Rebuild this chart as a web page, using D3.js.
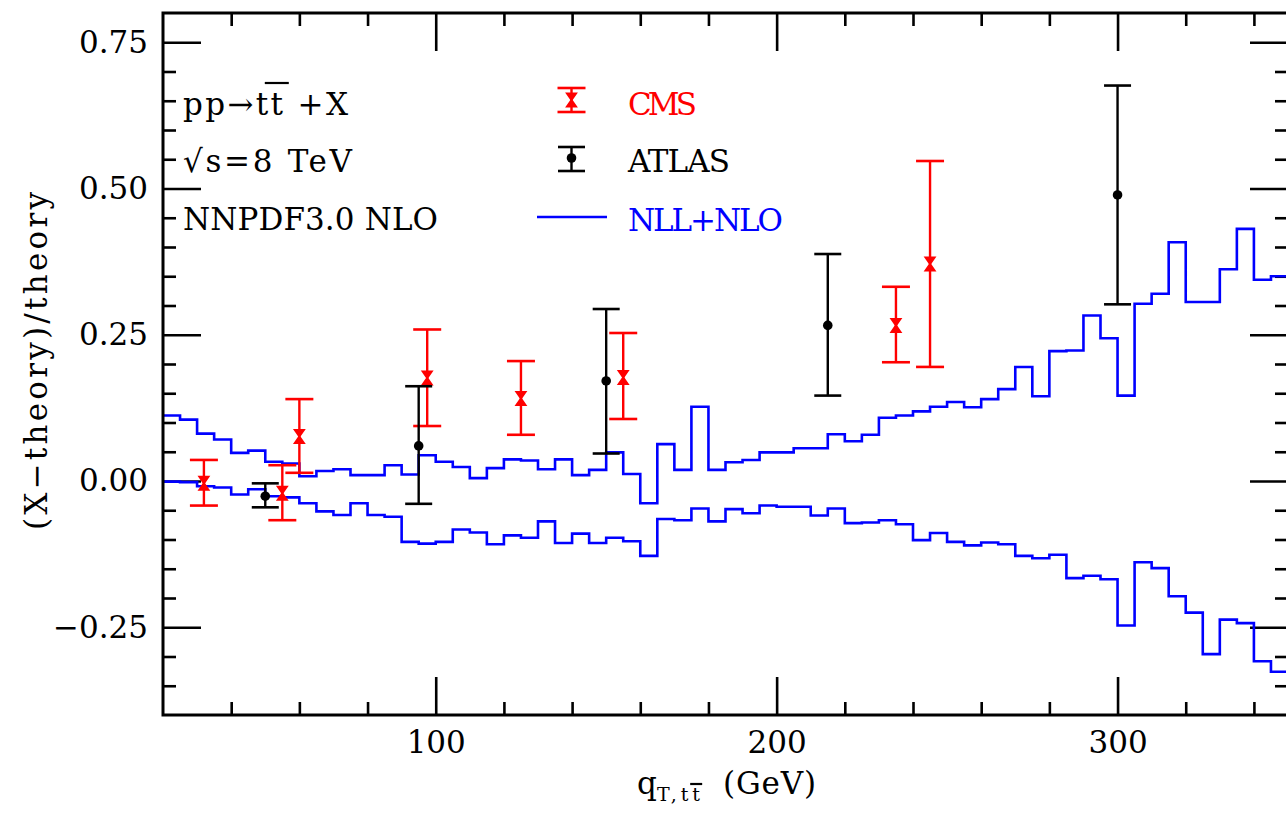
<!DOCTYPE html>
<html><head><meta charset="utf-8">
<script src="https://cdn.jsdelivr.net/npm/d3@7"></script>
<style>body{margin:0;background:#fff} svg{display:block}</style>
</head><body>
<svg id="c" width="1286" height="820"></svg>
<script>
// ---- data ----
const binLo = [20,25,30,35,40,45,50,55,60,65,70,75,80,85,90,95,100,105,110,115,120,125,130,135,140,145,150,155,160,165,170,175,180,185,190,195,200,205,210,215,220,225,230,235,240,245,250,255,260,265,270,275,280,285,290,295,300,305,310,315,320,325,330,335,340,345];
const binHi = 350;
const nllUpper = [0.112,0.105,0.081,0.071,0.048,0.052,0.033,0.030,0.008,0.017,0.020,0.010,0.010,0.027,0.011,0.044,0.033,0.024,0.005,0.022,0.037,0.035,0.020,0.037,0.010,0.019,0.049,0.012,-0.038,0.063,0.019,0.127,0.019,0.032,0.036,0.049,0.049,0.056,0.056,0.080,0.068,0.079,0.108,0.112,0.119,0.127,0.135,0.126,0.140,0.157,0.195,0.145,0.222,0.223,0.283,0.244,0.146,0.303,0.320,0.408,0.306,0.306,0.362,0.431,0.344,0.350];
const nllLower = [-0.001,-0.002,-0.009,-0.011,-0.023,-0.014,-0.026,-0.028,-0.038,-0.052,-0.058,-0.038,-0.058,-0.061,-0.104,-0.107,-0.104,-0.083,-0.088,-0.108,-0.093,-0.097,-0.069,-0.106,-0.090,-0.106,-0.097,-0.103,-0.128,-0.065,-0.067,-0.047,-0.069,-0.048,-0.055,-0.042,-0.044,-0.044,-0.059,-0.047,-0.072,-0.071,-0.067,-0.074,-0.101,-0.089,-0.104,-0.110,-0.105,-0.108,-0.128,-0.132,-0.126,-0.166,-0.162,-0.168,-0.247,-0.139,-0.149,-0.197,-0.225,-0.296,-0.237,-0.243,-0.308,-0.326];

const cmsX  = [32, 55, 60, 97.5, 125, 155, 235, 245];
const cmsY  = [-0.004, -0.021, 0.076, 0.176, 0.141, 0.177, 0.266, 0.371];
const cmsHi = [0.036, 0.027, 0.140, 0.259, 0.205, 0.253, 0.332, 0.547];
const cmsLo = [-0.042, -0.067, 0.014, 0.094, 0.079, 0.106, 0.203, 0.195];

const atlasX  = [50, 95, 150, 215, 300];
const atlasY  = [-0.026, 0.060, 0.171, 0.266, 0.489];
const atlasHi = [-0.004, 0.162, 0.294, 0.388, 0.676];
const atlasLo = [-0.045, -0.039, 0.047, 0.146, 0.302];

const xMajorTicks = [100, 200, 300];
const yMajorTicks = [-0.25, 0.00, 0.25, 0.50, 0.75];
const xDomain = [20, 350];
const yDomain = [-0.4, 0.8];

// ---- layout ----
const L = 163, R = 1288, T = 13, B = 715;
const FONT = "DejaVu Serif";
const RED = "#ff0000", BLUE = "#0000ff";

const svg = d3.select("#c");
const x = d3.scaleLinear(xDomain, [L, R]);
const y = d3.scaleLinear(yDomain, [B, T]);

const xMinor = d3.range(40, 350, 20).filter(v => !xMajorTicks.includes(v));
const yMinor = d3.range(-0.35, 0.8, 0.05).map(v => +v.toFixed(2)).filter(v => !yMajorTicks.some(m => Math.abs(m - v) < 1e-6));

function styleAxis(g) {
  g.select(".domain").remove();
  g.selectAll(".tick line").attr("stroke", "#000").attr("stroke-width", 2.6);
  g.selectAll(".tick text").attr("font-family", FONT).attr("font-size", 31).attr("fill", "#000");
}

// bottom
svg.append("g").attr("transform", `translate(0,${B})`)
  .call(d3.axisBottom(x).tickValues(xMinor).tickSize(-13).tickFormat("")).call(styleAxis);
svg.append("g").attr("transform", `translate(0,${B})`)
  .call(d3.axisBottom(x).tickValues(xMajorTicks).tickSize(-38).tickPadding(16).tickFormat(d3.format("d"))).call(styleAxis);
// top
svg.append("g").attr("transform", `translate(0,${T})`)
  .call(d3.axisTop(x).tickValues(xMinor).tickSize(-13).tickFormat("")).call(styleAxis);
svg.append("g").attr("transform", `translate(0,${T})`)
  .call(d3.axisTop(x).tickValues(xMajorTicks).tickSize(-38).tickFormat("")).call(styleAxis);
// left
svg.append("g").attr("transform", `translate(${L},0)`)
  .call(d3.axisLeft(y).tickValues(yMinor).tickSize(-13).tickFormat("")).call(styleAxis);
svg.append("g").attr("transform", `translate(${L},0)`)
  .call(d3.axisLeft(y).tickValues(yMajorTicks).tickSize(-38).tickPadding(15).tickFormat(d3.format(".2f"))).call(styleAxis);
// right
svg.append("g").attr("transform", `translate(${R},0)`)
  .call(d3.axisRight(y).tickValues(yMinor).tickSize(-13).tickFormat("")).call(styleAxis);
svg.append("g").attr("transform", `translate(${R},0)`)
  .call(d3.axisRight(y).tickValues(yMajorTicks).tickSize(-38).tickFormat("")).call(styleAxis);

// clip
svg.append("clipPath").attr("id", "plotclip").append("rect")
  .attr("x", L).attr("y", T).attr("width", R - L).attr("height", B - T);

// histogram bands
const stepLine = d3.line().x(d => x(d[0])).y(d => y(d[1])).curve(d3.curveStepAfter);
function bandPoints(vals) {
  const pts = binLo.map((b, i) => [b, vals[i]]);
  pts.push([binHi, vals[vals.length - 1]]);
  return pts;
}
const gPlot = svg.append("g").attr("clip-path", "url(#plotclip)");
[nllUpper, nllLower].forEach(vals => {
  gPlot.append("path").attr("d", stepLine(bandPoints(vals)))
    .attr("fill", "none").attr("stroke", BLUE).attr("stroke-width", 2.6);
});

// error bars
function errBar(g, cx, lo, hi, color, capHalf) {
  g.append("line").attr("x1", cx).attr("x2", cx).attr("y1", lo).attr("y2", hi)
    .attr("stroke", color).attr("stroke-width", 2.4);
  [lo, hi].forEach(yy => g.append("line").attr("x1", cx - capHalf).attr("x2", cx + capHalf)
    .attr("y1", yy).attr("y2", yy).attr("stroke", color).attr("stroke-width", 2.6));
}
function cmsMarker(g, cx, cy) {
  g.append("path").attr("d", `M${cx-4.5},${cy-6.5}L${cx+4.5},${cy-6.5}L${cx-4.5},${cy+6.5}L${cx+4.5},${cy+6.5}Z`)
    .attr("fill", RED).attr("stroke", RED).attr("stroke-width", 2).attr("stroke-linejoin", "miter");
}
const gCms = svg.append("g");
cmsX.forEach((v, i) => {
  errBar(gCms, x(v), y(cmsLo[i]), y(cmsHi[i]), RED, 14);
  cmsMarker(gCms, x(v), y(cmsY[i]));
});
const gAtlas = svg.append("g");
atlasX.forEach((v, i) => {
  errBar(gAtlas, x(v), y(atlasLo[i]), y(atlasHi[i]), "#000", 13.5);
  gAtlas.append("circle").attr("cx", x(v)).attr("cy", y(atlasY[i])).attr("r", 4.8).attr("fill", "#000");
});

// frame
svg.append("rect").attr("x", L).attr("y", T).attr("width", R - L).attr("height", B - T)
  .attr("fill", "none").attr("stroke", "#000").attr("stroke-width", 3);

// text helper
function txt(s, px, py, opts = {}) {
  const t = svg.append("text").attr("x", px).attr("y", py).text(s)
    .attr("font-family", FONT).attr("font-size", opts.size || 31)
    .attr("fill", opts.color || "#000");
  if (opts.len) t.attr("textLength", opts.len).attr("lengthAdjust", "spacing");
  if (opts.anchor) t.attr("text-anchor", opts.anchor);
  if (opts.transform) t.attr("transform", opts.transform);
  return t;
}
function overlineChar(t, idx, dy, halfW, color) {
  const n = t.node();
  const s = n.getStartPositionOfChar(idx);
  const ext = n.getExtentOfChar(idx);
  const cx = ext.x + ext.width / 2;
  svg.append("line").attr("x1", cx - halfW).attr("x2", cx + halfW).attr("y1", s.y - dy).attr("y2", s.y - dy)
    .attr("stroke", color || "#000").attr("stroke-width", 2.2);
}

// annotations
const t1 = txt("pp\u2192tt +X", 183, 115, {len: 165});
overlineChar(t1, 4, 32, 12);
txt("\u221As=8 TeV", 183, 172, {len: 169});
txt("NNPDF3.0 NLO", 183, 230, {len: 255});

// legend
const gLeg = svg.append("g");
errBar(gLeg, 571.5, 112, 88, RED, 14);
cmsMarker(gLeg, 571.5, 100);
txt("CMS", 628, 115, {color: RED, len: 69});
errBar(gLeg, 571.5, 171, 147, "#000", 13.5);
gLeg.append("circle").attr("cx", 571.5).attr("cy", 158).attr("r", 4.8).attr("fill", "#000");
txt("ATLAS", 628, 172, {len: 102});
gLeg.append("line").attr("x1", 537).attr("x2", 607).attr("y1", 217).attr("y2", 217)
  .attr("stroke", BLUE).attr("stroke-width", 2.6);
txt("NLL+NLO", 628, 231, {color: BLUE, len: 155});

// axis titles
txt("(X\u2212theory)/theory", 0, 0, {len: 338, anchor: "middle", transform: "translate(47,361) rotate(-90)"});
txt("q", 637, 794, {size: 31});
const sub = txt("T,tt", 657, 801, {size: 19, len: 43});
overlineChar(sub, 3, 17, 6);
txt("(GeV)", 723, 794, {len: 93});
</script>
</body></html>
